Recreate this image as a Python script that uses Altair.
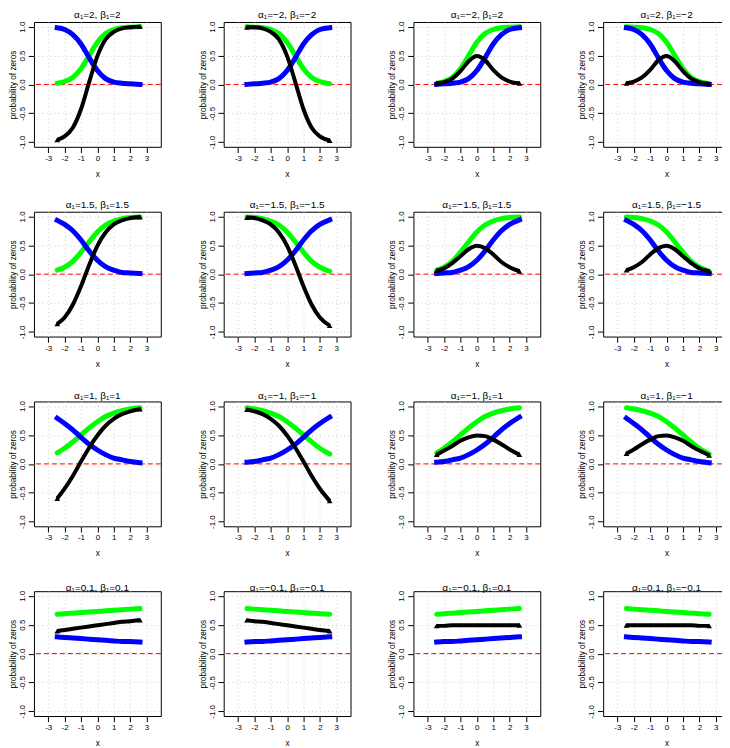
import altair as alt
import pandas as pd

x_grid = [-2.45, -2.0, -1.5, -1.0, -0.5, 0.0, 0.5, 1.0, 1.5, 2.0, 2.6]

# green curves (change with beta_1)
green_b2 = [0.02, 0.05, 0.12, 0.27, 0.50, 0.73, 0.88, 0.95, 0.98, 0.99, 1.00]
green_bm2 = [1.00, 0.99, 0.98, 0.95, 0.88, 0.73, 0.50, 0.27, 0.12, 0.05, 0.01]
green_b15 = [0.07, 0.12, 0.22, 0.38, 0.56, 0.73, 0.85, 0.92, 0.96, 0.98, 0.99]
green_bm15 = [0.99, 0.98, 0.96, 0.92, 0.85, 0.73, 0.56, 0.38, 0.22, 0.12, 0.05]
green_b1 = [0.19, 0.27, 0.38, 0.50, 0.62, 0.73, 0.82, 0.88, 0.92, 0.95, 0.97]
green_bm1 = [0.97, 0.95, 0.92, 0.88, 0.82, 0.73, 0.62, 0.50, 0.38, 0.27, 0.17]
green_b01 = [0.68, 0.69, 0.70, 0.71, 0.72, 0.73, 0.74, 0.75, 0.76, 0.77, 0.78]
green_bm01 = [0.78, 0.77, 0.76, 0.75, 0.74, 0.73, 0.72, 0.71, 0.70, 0.69, 0.68]

# blue curves (change with alpha_1)
blue_a2 = [0.98, 0.95, 0.86, 0.70, 0.46, 0.24, 0.10, 0.04, 0.02, 0.01, 0.00]
blue_am2 = [0.00, 0.01, 0.02, 0.04, 0.10, 0.24, 0.46, 0.70, 0.86, 0.95, 0.98]
blue_a15 = [0.93, 0.86, 0.75, 0.59, 0.40, 0.24, 0.13, 0.07, 0.03, 0.02, 0.01]
blue_am15 = [0.01, 0.02, 0.03, 0.07, 0.13, 0.24, 0.40, 0.59, 0.75, 0.86, 0.94]
blue_a1 = [0.79, 0.70, 0.59, 0.46, 0.34, 0.24, 0.16, 0.10, 0.07, 0.04, 0.02]
blue_am1 = [0.03, 0.04, 0.07, 0.10, 0.16, 0.24, 0.34, 0.46, 0.59, 0.70, 0.81]
blue_a01 = [0.29, 0.28, 0.27, 0.26, 0.25, 0.24, 0.23, 0.22, 0.21, 0.21, 0.20]
blue_am01 = [0.20, 0.21, 0.21, 0.22, 0.23, 0.24, 0.25, 0.26, 0.27, 0.28, 0.29]

# black curves, one per panel
black_p1 = [-0.96, -0.90, -0.75, -0.43, 0.04, 0.49, 0.78, 0.91, 0.97, 0.99, 1.00]
black_p2 = [0.99, 0.99, 0.97, 0.91, 0.78, 0.49, 0.04, -0.43, -0.75, -0.90, -0.97]
black_p3 = [0.02, 0.04, 0.10, 0.23, 0.40, 0.49, 0.42, 0.25, 0.12, 0.05, 0.02]
black_p4 = [0.02, 0.05, 0.12, 0.25, 0.42, 0.49, 0.40, 0.23, 0.10, 0.04, 0.01]
black_p5 = [-0.86, -0.75, -0.53, -0.21, 0.16, 0.49, 0.72, 0.86, 0.93, 0.97, 0.99]
black_p6 = [0.98, 0.97, 0.93, 0.86, 0.72, 0.49, 0.16, -0.21, -0.53, -0.75, -0.89]
black_p7 = [0.06, 0.10, 0.19, 0.31, 0.43, 0.49, 0.45, 0.34, 0.21, 0.12, 0.05]
black_p8 = [0.07, 0.12, 0.21, 0.34, 0.45, 0.49, 0.43, 0.31, 0.19, 0.10, 0.05]
black_p9 = [-0.60, -0.43, -0.21, 0.04, 0.28, 0.49, 0.66, 0.78, 0.86, 0.91, 0.95]
black_p10 = [0.94, 0.91, 0.86, 0.78, 0.66, 0.49, 0.28, 0.04, -0.21, -0.43, -0.64]
black_p11 = [0.16, 0.23, 0.31, 0.40, 0.46, 0.49, 0.48, 0.42, 0.34, 0.25, 0.16]
black_p12 = [0.18, 0.25, 0.34, 0.42, 0.48, 0.49, 0.46, 0.40, 0.31, 0.23, 0.15]
black_p13 = [0.39, 0.41, 0.43, 0.45, 0.47, 0.49, 0.51, 0.53, 0.55, 0.56, 0.58]
black_p14 = [0.58, 0.56, 0.55, 0.53, 0.51, 0.49, 0.47, 0.45, 0.43, 0.41, 0.39]
black_p15 = [0.48, 0.48, 0.49, 0.49, 0.49, 0.49, 0.49, 0.49, 0.49, 0.49, 0.49]
black_p16 = [0.49, 0.49, 0.49, 0.49, 0.49, 0.49, 0.49, 0.49, 0.49, 0.48, 0.48]

titles = [
    "α₁=2, β₁=2", "α₁=−2, β₁=−2", "α₁=−2, β₁=2", "α₁=2, β₁=−2",
    "α₁=1.5, β₁=1.5", "α₁=−1.5, β₁=−1.5", "α₁=−1.5, β₁=1.5", "α₁=1.5, β₁=−1.5",
    "α₁=1, β₁=1", "α₁=−1, β₁=−1", "α₁=−1, β₁=1", "α₁=1, β₁=−1",
    "α₁=0.1, β₁=0.1", "α₁=−0.1, β₁=−0.1", "α₁=−0.1, β₁=0.1", "α₁=0.1, β₁=−0.1",
]
greens = [green_b2, green_bm2, green_b2, green_bm2,
          green_b15, green_bm15, green_b15, green_bm15,
          green_b1, green_bm1, green_b1, green_bm1,
          green_b01, green_bm01, green_b01, green_bm01]
blues = [blue_a2, blue_am2, blue_am2, blue_a2,
         blue_a15, blue_am15, blue_am15, blue_a15,
         blue_a1, blue_am1, blue_am1, blue_a1,
         blue_a01, blue_am01, blue_am01, blue_a01]
blacks = [black_p1, black_p2, black_p3, black_p4,
          black_p5, black_p6, black_p7, black_p8,
          black_p9, black_p10, black_p11, black_p12,
          black_p13, black_p14, black_p15, black_p16]

x_ticks = [-3, -2, -1, 0, 1, 2, 3]
y_ticks = [-1.0, -0.5, 0.0, 0.5, 1.0]

FONT = "Liberation Sans"
W, H = 127, 125

x_scale = alt.Scale(domain=[-3.87, 3.87], nice=False, zero=False)
y_scale = alt.Scale(domain=[-1.08, 1.08], nice=False, zero=False)
x_axis = alt.Axis(values=x_ticks, format="d", title="x",
                  labelExpr="replace(datum.label, '\u2212', '-')",
                  labelAngle=0, labelAlign="center", labelBaseline="top",
                  labelPadding=2, titlePadding=8)
y_axis = alt.Axis(values=y_ticks, format=".1f", title="probability of zeros",
                  labelExpr="replace(datum.label, '\u2212', '-')",
                  labelAngle=270, labelAlign="center", labelBaseline="middle",
                  labelPadding=6,
                  titleAngle=270, titleX=-24.5, titleY=H / 2,
                  titleAlign="center", titleBaseline="top")


def panel(title, g, b, k):
    df = pd.DataFrame({"x": x_grid, "g": g, "b": b, "k": k})
    X = alt.X("x:Q", scale=x_scale, axis=x_axis)
    zero = alt.Chart(pd.DataFrame({"z": [0.0]})).mark_rule(
        color="#ff0000", strokeDash=[5, 3], strokeWidth=1
    ).encode(y=alt.Y("z:Q", scale=y_scale, axis=y_axis))
    base = alt.Chart(df)
    green = base.mark_line(color="#00ff00", strokeWidth=5, strokeCap="round",
                           interpolate="monotone").encode(
        x=X, y=alt.Y("g:Q", scale=y_scale, axis=y_axis))
    blue = base.mark_line(color="#0000ff", strokeWidth=5, strokeCap="square",
                          interpolate="monotone").encode(
        x=X, y=alt.Y("b:Q", scale=y_scale, axis=y_axis))
    black = base.mark_line(color="#000000", strokeWidth=4, strokeCap="butt",
                           interpolate="monotone").encode(
        x=X, y=alt.Y("k:Q", scale=y_scale, axis=y_axis))
    ends = alt.Chart(df.iloc[[0, len(df) - 1]]).mark_point(
        shape="triangle-up", filled=True, color="#000000", size=32, opacity=1
    ).encode(x=X, y=alt.Y("k:Q", scale=y_scale, axis=y_axis))
    return alt.layer(zero, green, blue, black, ends).properties(
        width=W, height=H,
        title=alt.TitleParams(text=title, frame="group", offset=-3))


charts = [panel(t, g, b, k) for t, g, b, k in zip(titles, greens, blues, blacks)]

chart = alt.concat(*charts, columns=4, spacing={"row": 65, "column": 63}).properties(
    bounds="flush",
    padding={"left": 0, "top": 0.5, "right": -9, "bottom": 0},
).configure_view(
    stroke="#000000", strokeWidth=1
).configure_axis(
    labelFont=FONT, labelFontSize=8, labelColor="#000000",
    titleFont=FONT, titleFontSize=8.2, titleFontWeight="normal", titleColor="#000000",
    tickColor="#000000", tickSize=5.7, tickWidth=1, domain=False,
    grid=True, gridColor="#cfcfcf", gridDash=[1, 3], gridWidth=1,
    labelOverlap=False, labelFlush=False,
).configure_title(
    font=FONT, fontSize=10, fontWeight="normal", color="#000000",
)

chart.save("out.html", embed_options={"renderer": "svg", "actions": False})
